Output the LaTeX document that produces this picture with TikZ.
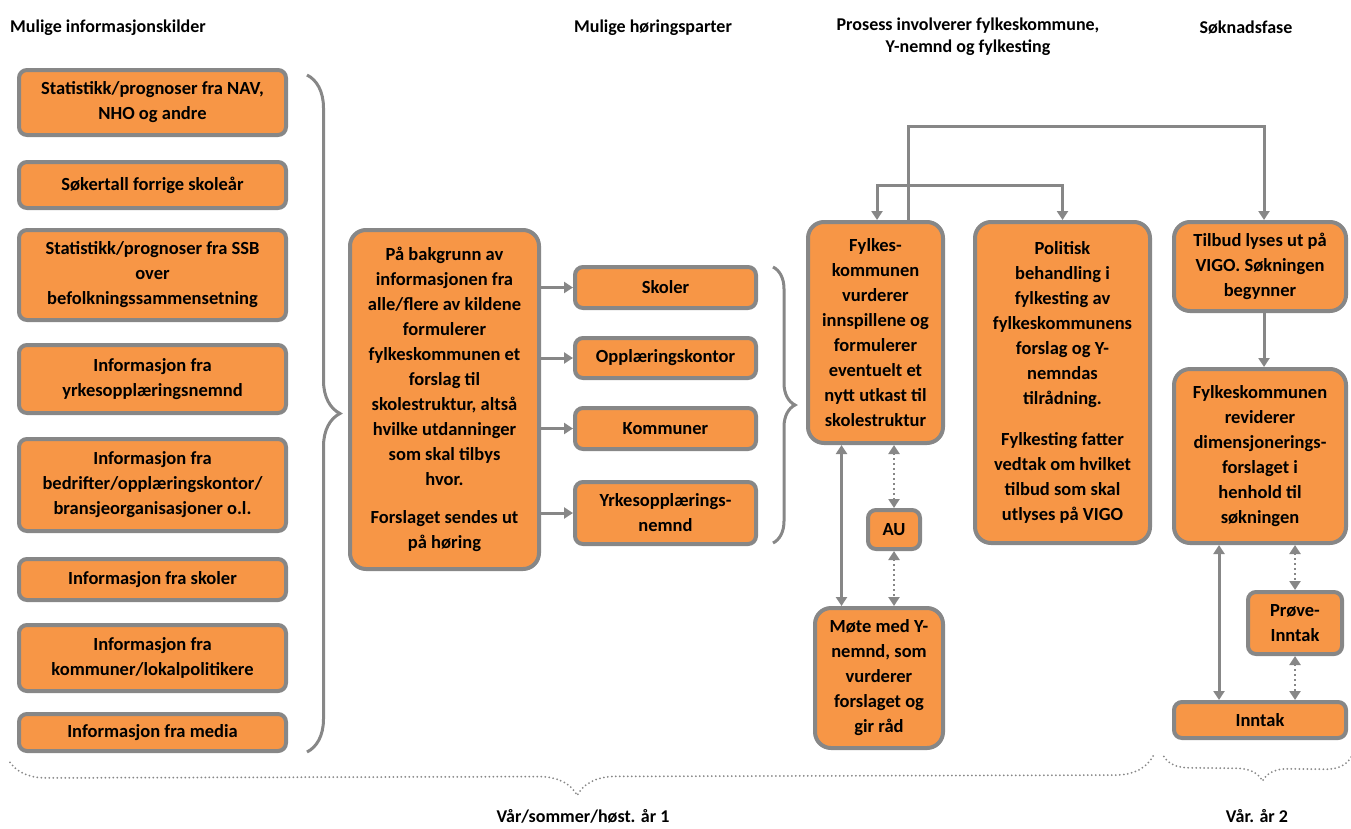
\documentclass[tikz,border=0pt]{standalone}
\usepackage{fontspec}
\setmainfont{Carlito}
\usetikzlibrary{arrows.meta, positioning, decorations.pathreplacing}

\definecolor{boxorange}{HTML}{F79646}
\definecolor{linegray}{HTML}{878787}

\tikzstyle{arrow} = [draw=linegray, line width=3pt, -{Triangle[length=9pt,width=11pt]}]
\tikzstyle{twoway} = [arrow, {Triangle[length=9pt,width=11pt]}-{Triangle[length=9pt,width=11pt]}]
\tikzstyle{dotarrow} = [twoway, line width=2.5pt, dash pattern=on 2pt off 3pt]
\tikzstyle{stepbox} = [rectangle, rounded corners=8pt, draw=linegray, line width=4pt, fill=boxorange, align=center, inner sep=2pt, font=\bfseries\fontsize{18.5}{25}\selectfont]
\tikzstyle{bigbox} = [stepbox, rounded corners=16pt]
\tikzstyle{header} = [align=center, inner sep=0pt, font=\bfseries\fontsize{18}{22}\selectfont]
\tikzstyle{bracket} = [draw=linegray, line width=3pt, decorate]
\tikzstyle{periode} = [draw=linegray, line width=2pt, dash pattern=on 0pt off 4pt, line cap=round, decorate]

\begin{document}
\begin{tikzpicture}[x=1pt, y=-1pt]
\useasboundingbox (0,0) rectangle (1351,828);

% Headers
\node (h_kilder) [header, anchor=west] at (10,28) {Mulige informasjonskilder};
\node (h_parter) [header] at (653,28) {Mulige høringsparter};
\node (h_prosess) [header, anchor=north] at (968,18) {Prosess involverer fylkeskommune,\\Y-nemnd og fylkesting};
\node (h_soknad) [header] at (1246,28) {Søknadsfase};

% Information sources
\node (kilde1) [stepbox, minimum width=267, minimum height=65] at (152.5,102.5) {Statistikk/prognoser fra NAV,\\NHO og andre};
\node (kilde2) [stepbox, minimum width=267, minimum height=46] at (152.5,185) {Søkertall forrige skoleår};
\node (kilde3) [stepbox, minimum width=267, minimum height=90] at (152.5,275) {Statistikk/prognoser fra SSB\\over\\befolkningssammensetning};
\node (kilde4) [stepbox, minimum width=267, minimum height=68] at (152.5,379) {Informasjon fra\\yrkesopplæringsnemnd};
\node (kilde5) [stepbox, minimum width=267, minimum height=92] at (152.5,485) {Informasjon fra\\bedrifter/opplæringskontor/\\bransjeorganisasjoner o.l.};
\node (kilde6) [stepbox, minimum width=267, minimum height=41] at (152.5,579.5) {Informasjon fra skoler};
\node (kilde7) [stepbox, minimum width=267, minimum height=66] at (152.5,658) {Informasjon fra\\kommuner/lokalpolitikere};
\node (kilde8) [stepbox, minimum width=267, minimum height=37] at (152.5,732.5) {Informasjon fra media};

% Proposal
\node (forslag) [bigbox, minimum width=189, minimum height=339] at (444.5,399.5) {På bakgrunn av\\informasjonen fra\\alle/flere av kildene\\formulerer\\fylkeskommunen et\\forslag til\\skolestruktur, altså\\hvilke utdanninger\\som skal tilbys\\hvor.\\[13pt]Forslaget sendes ut\\på høring};

% Hearing parties
\node (skoler) [stepbox, minimum width=181, minimum height=41] at (665.5,287.5) {Skoler};
\node (okontor) [stepbox, minimum width=181, minimum height=40] at (665.5,358) {Opplæringskontor};
\node (kommuner) [stepbox, minimum width=181, minimum height=41] at (665.5,428.5) {Kommuner};
\node (ynemnd) [stepbox, minimum width=181, minimum height=62] at (665.5,513) {Yrkesopplærings-\\nemnd};

% County process
\node (vurdering) [bigbox, minimum width=135, minimum height=221] at (875.5,332.5) {Fylkes-\\kommunen\\vurderer\\innspillene og\\formulerer\\eventuelt et\\nytt utkast til\\skolestruktur};
\node (au) [stepbox, minimum width=52, minimum height=39] at (894,529.5) {AU};
\node (moete) [bigbox, minimum width=128, minimum height=140] at (879,678) {Møte med Y-\\nemnd, som\\vurderer\\forslaget og\\gir råd};
\node (politisk) [bigbox, minimum width=175, minimum height=321] at (1062.5,382.5) {Politisk\\behandling i\\fylkesting av\\fylkeskommunens\\forslag og Y-\\nemndas\\tilrådning.\\[16pt]Fylkesting fatter\\vedtak om hvilket\\tilbud som skal\\utlyses på VIGO};

% Application phase
\node (tilbud) [bigbox, minimum width=172, minimum height=89] at (1260,266.5) {Tilbud lyses ut på\\VIGO. Søkningen\\begynner};
\node (revider) [bigbox, minimum width=172, minimum height=174] at (1260,456) {Fylkeskommunen\\reviderer\\dimensjonerings-\\forslaget i\\henhold til\\søkningen};
\node (proeve) [stepbox, minimum width=94, minimum height=62] at (1295,623) {Prøve-\\Inntak};
\node (inntak) [stepbox, minimum width=172, minimum height=36] at (1260,720) {Inntak};

% Braces
\draw [bracket, decoration={brace, amplitude=33pt}] (307,75) -- (307,752);
\draw [bracket, decoration={brace, amplitude=22pt}] (773,267) -- (773,543);
\draw [periode, decoration={brace, amplitude=38pt, aspect=0.503}] (1153,756) -- (8,759);
\draw [periode, decoration={brace, amplitude=25pt, aspect=0.47}] (1351,757) -- (1163,755);

% Period labels
\node (aar1) [header] at (583,816) {Vår/sommer/høst. år 1};
\node (aar2) [header] at (1257,816) {Vår. år 2};

% Hearing arrows
\draw [arrow] (forslag.east |- skoler) -- (skoler);
\draw [arrow] (forslag.east |- okontor) -- (okontor);
\draw [arrow] (forslag.east |- kommuner) -- (kommuner);
\draw [arrow] (forslag.east |- ynemnd) -- (ynemnd);

% Process flow
\coordinate (looptop) at (908,126);
\coordinate (votetop) at (877,185);
\draw [arrow] (vurdering.north -| looptop) -- (looptop) -| ([xshift=4pt]tilbud.north);
\draw [twoway] (vurdering.north -| votetop) -- (votetop) -| (politisk.north);
\draw [twoway] ([xshift=-34pt]vurdering.south) -- ([xshift=-34pt]vurdering.south |- moete.north);
\draw [dotarrow] (vurdering.south -| au) -- (au.north);
\draw [dotarrow] (au.south) -- (au.south |- moete.north);
\draw [arrow] ([xshift=4pt]tilbud.south) -- ([xshift=4pt]revider.north);
\draw [twoway] ([xshift=-41pt]revider.south) -- ([xshift=-41pt]revider.south |- inntak.north);
\draw [dotarrow] (revider.south -| proeve) -- (proeve.north);
\draw [dotarrow] (proeve.south) -- (proeve.south |- inntak.north);

\end{tikzpicture}
\end{document}
